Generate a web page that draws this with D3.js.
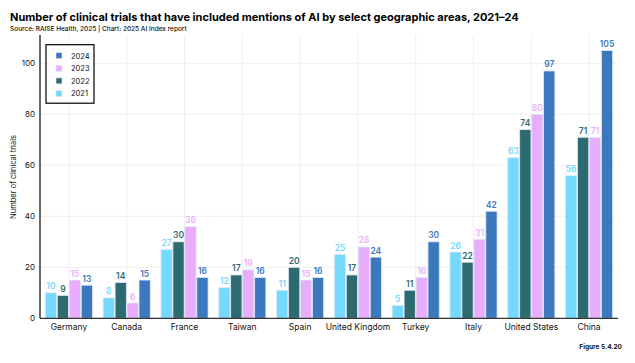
<!DOCTYPE html>
<html><head><meta charset="utf-8">
<script src="https://cdn.jsdelivr.net/npm/d3@7"></script>
<style>body{margin:0;background:#fff}svg{display:block;font-family:Inter,"Open Sans",sans-serif}</style>
</head><body><svg id="c" width="635" height="363"></svg>
<script>
const categories = ["Germany","Canada","France","Taiwan","Spain","United Kingdom","Turkey","Italy","United States","China"];
const years = ["2021","2022","2023","2024"];
const v2021 = [10,8,27,12,11,25,5,26,63,56];
const v2022 = [9,14,30,17,20,17,11,22,74,71];
const v2023 = [15,6,36,19,15,28,16,31,80,71];
const v2024 = [13,15,16,16,16,24,30,42,97,105];
const yTicks = [0,20,40,60,80,100];
const colors = ["#74d9fd","#2e6b70","#e8aefc","#3c78bd"];
const labelColors = ["#74d9fd","#2e6b70","#e8aefc","#3c78bd"];
const series = [v2021,v2022,v2023,v2024];

const svg = d3.select("#c");
const x0 = d3.scaleBand().domain(categories).range([40,618]).paddingInner(0.16).paddingOuter(0.08);
const x1 = d3.scaleBand().domain(years).range([0,x0.bandwidth()]).padding(0.06);
const y = d3.scaleLinear().domain([0,111]).range([318.3,35.3]);
const xc = d3.scalePoint().domain(categories).range([40,618]).padding(0.5);

// grid
svg.append("g").selectAll("line").data(yTicks.slice(1)).join("line")
  .attr("x1",40).attr("x2",618).attr("y1",d=>y(d)).attr("y2",d=>y(d))
  .attr("stroke","#efefef").attr("stroke-width",1);
svg.append("g").selectAll("line").data(categories).join("line")
  .attr("x1",d=>xc(d)).attr("x2",d=>xc(d)).attr("y1",35).attr("y2",318)
  .attr("stroke","#efefef").attr("stroke-width",1);

// bars
const g = svg.append("g");
categories.forEach((c,i)=>{
  years.forEach((yr,j)=>{
    const v = series[j][i];
    g.append("rect").attr("x",x0(c)+x1(yr)).attr("width",x1.bandwidth())
      .attr("y",y(v)).attr("height",y(0)-y(v)).attr("fill",colors[j])
      .attr("stroke","#dfe8f5").attr("stroke-width",0.8);
    g.append("text").attr("x",x0(c)+x1(yr)+x1.bandwidth()/2).attr("y",y(v)-3.5)
      .attr("text-anchor","middle").attr("font-size",8.5).attr("font-weight",600)
      .attr("fill",labelColors[j]).text(v);
  });
});

// axes
const ya = svg.append("g").attr("transform","translate(40,0)")
  .call(d3.axisLeft(y).tickValues(yTicks).tickSize(0).tickPadding(5));
ya.select(".domain").attr("d","M0,35V318.3").attr("stroke","#000").attr("stroke-width",1.2);
ya.selectAll("text").attr("font-size",8).attr("font-family","Inter,sans-serif").attr("fill","#111");
const xa = svg.append("g").attr("transform","translate(0,318.3)")
  .call(d3.axisBottom(x0).tickSize(0).tickPadding(6));
xa.select(".domain").attr("d","M40,0H618").attr("stroke","#333").attr("stroke-width",1.2);
xa.selectAll("text").attr("font-size",8.5).attr("font-family","Inter,sans-serif").attr("fill","#111");

// titles
svg.append("text").attr("x",10).attr("y",21).attr("font-size",11).attr("font-weight",700).attr("fill","#000")
  .text("Number of clinical trials that have included mentions of AI by select geographic areas, 2021–24");
svg.append("text").attr("x",10).attr("y",31).attr("font-size",6.5).attr("font-weight",500).attr("fill","#111")
  .text("Source: RAISE Health, 2025 | Chart: 2025 AI Index report");
svg.append("text").attr("transform","translate(16,177) rotate(-90)").attr("text-anchor","middle")
  .attr("font-size",7.5).attr("fill","#111").text("Number of clinical trials");
svg.append("text").attr("x",622).attr("y",349).attr("text-anchor","end").attr("font-size",6.5).attr("font-weight",700)
  .attr("fill","#111").text("Figure 5.4.20");

// legend
const lg = svg.append("g");
lg.append("rect").attr("x",46).attr("y",44.7).attr("width",48).attr("height",58.5)
  .attr("fill","#fff").attr("stroke","#000").attr("stroke-width",1.2);
const legYears = ["2024","2023","2022","2021"];
legYears.forEach((yr,i)=>{
  const j = years.indexOf(yr);
  const cy = 55.7 + i*12.6;
  lg.append("rect").attr("x",56).attr("y",cy-3).attr("width",6).attr("height",6).attr("fill",colors[j])
    .attr("stroke","#dfe8f5").attr("stroke-width",0.6);
  lg.append("text").attr("x",71).attr("y",cy+2.8).attr("font-size",7.5).attr("fill","#111").text(yr);
});
</script></body></html>
